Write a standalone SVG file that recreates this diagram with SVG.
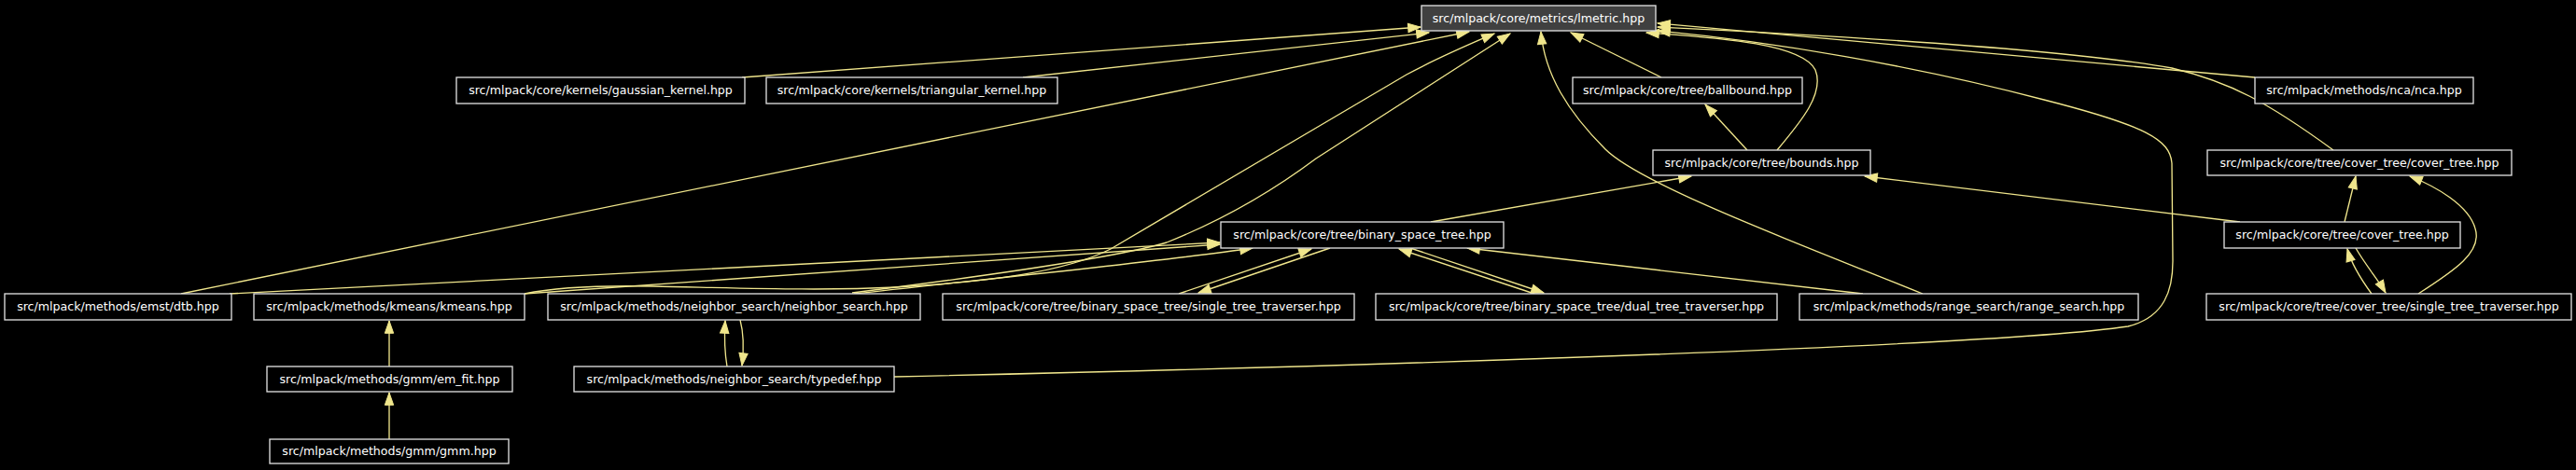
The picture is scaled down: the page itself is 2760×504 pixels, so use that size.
<svg xmlns="http://www.w3.org/2000/svg" width="2760" height="504" viewBox="0 0 2760 504">
<style>
.n rect{fill:#000;stroke:#e0e0e0;stroke-width:1.33}
.n text{font-family:"DejaVu Sans",sans-serif;font-size:12.6px;fill:#fff;text-anchor:middle}
#lmetric rect{fill:#404040}
.e path{fill:none;stroke:#f0e68c;stroke-width:1.33;marker-end:url(#ah)}
</style>
<defs>
<marker id="ah" markerUnits="userSpaceOnUse" markerWidth="16" markerHeight="12" viewBox="-1 -1 16 12" refX="13.3" refY="5" orient="auto">
<polygon points="0,0.33 13.3,5 0,9.67" fill="#f0e68c" stroke="#f0e68c" stroke-width="1"/>
</marker>
</defs>
<rect width="2760" height="504" fill="#000"/>
<g class="e" id="edges">
<path d="M795,83 L1522,29"/>
<path d="M1096,83 L1531,35"/>
<path d="M194,315 L1574,34"/>
<path d="M562,315 C600,307 650,306 700,307 C800,309 880,312 960,308 C1060,302 1140,292 1190,267 L1507,80 C1540,62 1580,45 1601,36"/>
<path d="M913,314 C1080,293 1200,275 1250,260 C1320,232 1370,200 1410,170 L1618,36"/>
<path d="M1780,83 L1683,35"/>
<path d="M2416,83 L1776,25"/>
<path d="M2500,161 C2430,110 2390,88 2327,73 C2200,50 1900,35 1776,29"/>
<path d="M1904,161 C1930,130 1955,100 1945,75 C1930,45 1830,40 1764,35"/>
<path d="M958,404 C1500,392 2150,370 2280,350 C2320,340 2328,310 2328,280 L2327,175 C2325,150 2300,135 2190,107 C2050,70 1900,45 1776,33"/>
<path d="M2060,315 C1950,270 1760,200 1720,160 C1680,120 1655,80 1651,34"/>
<path d="M1872,161 L1827,112"/>
<path d="M1533,238 L1812,189"/>
<path d="M2400,238 L1998,189"/>
<path d="M2512,238 L2524,189"/>
<path d="M2591,315 C2630,290 2660,270 2652,245 C2645,220 2610,200 2582,189"/>
<path d="M2541,315 C2530,300 2520,285 2515,267"/>
<path d="M2524,266 C2535,285 2548,300 2556,314"/>
<path d="M246,315 L1307,260"/>
<path d="M562,315 L1307,262"/>
<path d="M915,315 C1050,300 1250,280 1342,266"/>
<path d="M1263,315 L1405,267"/>
<path d="M1425,266 L1284,314"/>
<path d="M1644,315 L1499,267"/>
<path d="M1511,266 L1654,314"/>
<path d="M1996,315 L1572,266"/>
<path d="M417,393 L417,344"/>
<path d="M417,471 L417,421"/>
<path d="M779,393 C776,375 776,360 777,344"/>
<path d="M793,343 C797,358 797,375 795,392"/>
</g>
<g class="n" id="lmetric"><rect x="1523" y="6" width="251" height="27"/><text x="1648.5" y="24">src/mlpack/core/metrics/lmetric.hpp</text></g>
<g class="n" id="gaussian_kernel"><rect x="489" y="83" width="309" height="28"/><text x="643.5" y="101">src/mlpack/core/kernels/gaussian_kernel.hpp</text></g>
<g class="n" id="triangular_kernel"><rect x="821" y="83" width="312" height="28"/><text x="977" y="101">src/mlpack/core/kernels/triangular_kernel.hpp</text></g>
<g class="n" id="ballbound"><rect x="1685" y="83" width="246" height="28"/><text x="1808" y="101">src/mlpack/core/tree/ballbound.hpp</text></g>
<g class="n" id="nca"><rect x="2416" y="83" width="234" height="28"/><text x="2533" y="101">src/mlpack/methods/nca/nca.hpp</text></g>
<g class="n" id="bounds"><rect x="1771" y="161" width="233" height="27"/><text x="1887.5" y="179">src/mlpack/core/tree/bounds.hpp</text></g>
<g class="n" id="ct_cover_tree"><rect x="2365" y="161" width="326" height="27"/><text x="2528" y="179">src/mlpack/core/tree/cover_tree/cover_tree.hpp</text></g>
<g class="n" id="binary_space_tree"><rect x="1308" y="238" width="303" height="28"/><text x="1459.5" y="256">src/mlpack/core/tree/binary_space_tree.hpp</text></g>
<g class="n" id="cover_tree"><rect x="2383" y="238" width="253" height="28"/><text x="2509.5" y="256">src/mlpack/core/tree/cover_tree.hpp</text></g>
<g class="n" id="dtb"><rect x="5" y="315" width="243" height="28"/><text x="126.5" y="333">src/mlpack/methods/emst/dtb.hpp</text></g>
<g class="n" id="kmeans"><rect x="272" y="315" width="290" height="28"/><text x="417" y="333">src/mlpack/methods/kmeans/kmeans.hpp</text></g>
<g class="n" id="neighbor_search"><rect x="587" y="315" width="399" height="28"/><text x="786.5" y="333">src/mlpack/methods/neighbor_search/neighbor_search.hpp</text></g>
<g class="n" id="bst_single"><rect x="1010" y="315" width="441" height="28"/><text x="1230.5" y="333">src/mlpack/core/tree/binary_space_tree/single_tree_traverser.hpp</text></g>
<g class="n" id="bst_dual"><rect x="1474" y="315" width="430" height="28"/><text x="1689" y="333">src/mlpack/core/tree/binary_space_tree/dual_tree_traverser.hpp</text></g>
<g class="n" id="range_search"><rect x="1928" y="315" width="363" height="28"/><text x="2109.5" y="333">src/mlpack/methods/range_search/range_search.hpp</text></g>
<g class="n" id="ct_single"><rect x="2364" y="315" width="391" height="28"/><text x="2559.5" y="333">src/mlpack/core/tree/cover_tree/single_tree_traverser.hpp</text></g>
<g class="n" id="em_fit"><rect x="286" y="393" width="263" height="27"/><text x="417.5" y="411">src/mlpack/methods/gmm/em_fit.hpp</text></g>
<g class="n" id="typedef"><rect x="615" y="393" width="343" height="27"/><text x="786.5" y="411">src/mlpack/methods/neighbor_search/typedef.hpp</text></g>
<g class="n" id="gmm"><rect x="289" y="471" width="256" height="26"/><text x="417" y="488">src/mlpack/methods/gmm/gmm.hpp</text></g>
</svg>
